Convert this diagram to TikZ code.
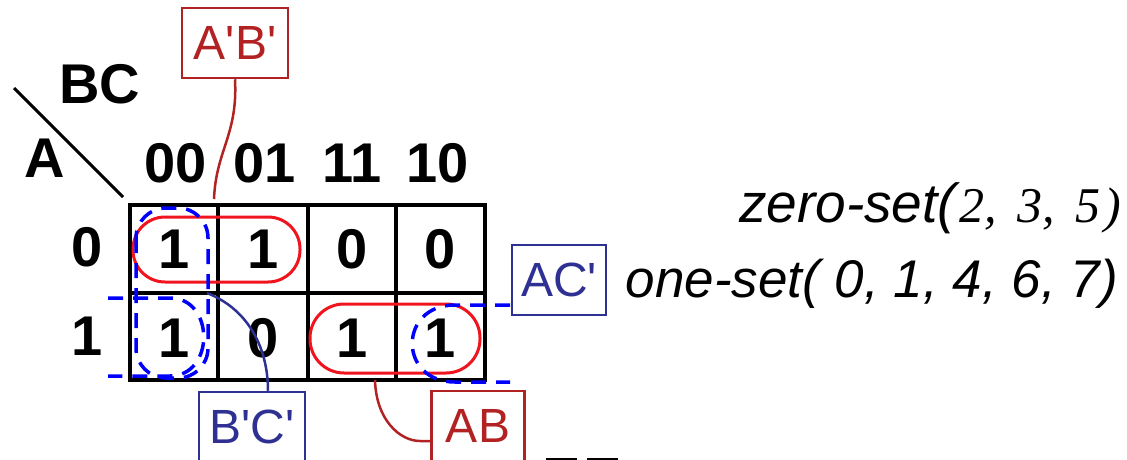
\documentclass[tikz,border=0pt]{standalone}
\usepackage{fontspec}
\setmainfont{Liberation Sans}
\newfontfamily\timesfont{Liberation Serif}
\usetikzlibrary{calc}
\definecolor{pillred}{RGB}{240,20,30}
\definecolor{labred}{RGB}{178,34,34}
\definecolor{labblue}{RGB}{46,49,146}
\definecolor{loopblue}{RGB}{0,0,255}
\def\big{\fontsize{56}{60}\selectfont\bfseries}
\def\lab{\fontsize{48}{50}\selectfont}
\def\pr{\textquotesingle}
\tikzset{
  cell/.style={font=\big, inner sep=0pt},
  grid/.style={line width=4pt},
  pill/.style={draw=pillred, line width=3pt},
  loop/.style={draw=loopblue, line width=3.5pt, dash pattern=on 15pt off 10pt},
  redbox/.style={draw=labred, line width=2.5pt, text=labred, font=\lab, minimum width=106pt, minimum height=70pt, inner sep=0pt},
  bluebox/.style={draw=labblue, line width=2.5pt, text=labblue, font=\lab, minimum width=106pt, minimum height=70pt, inner sep=0pt},
  setline/.style={anchor=base east, inner sep=0pt},
}
\begin{document}
\begin{tikzpicture}[x=1pt, y=-1pt]
  \useasboundingbox (0,0) rectangle (1127,460);
  % corner header
  \coordinate (d1) at (14,88);
  \coordinate (d2) at (123,197);
  \draw[line width=3pt] (d1) -- (d2);
  \node[cell, anchor=base] (bc) at (100,103) {BC};
  \node[cell, anchor=base] (a) at (45,177) {A};
  \node[cell, anchor=base] (h00) at (176,182) {00};
  \node[cell, anchor=base] (h01) at (265,182) {01};
  \node[cell, anchor=base] (h11) at (352,182) {11};
  \node[cell, anchor=base] (h10) at (438,182) {10};
  \node[cell, anchor=base] (r0) at (87,266) {0};
  \node[cell, anchor=base] (r1) at (87,355) {1};
  % map
  \draw[grid] (130,205) rectangle (485,380);
  \foreach \x in {218,308,396} \draw[grid] (\x,205) -- (\x,380);
  \draw[grid] (130,293) -- (485,293);
  \node[cell, anchor=base] (m0) at (174,268) {1};
  \node[cell, anchor=base] (m1) at (263,268) {1};
  \node[cell, anchor=base] (m3) at (352,268) {0};
  \node[cell, anchor=base] (m2) at (440,268) {0};
  \node[cell, anchor=base] (m4) at (174,357) {1};
  \node[cell, anchor=base] (m5) at (263,357) {0};
  \node[cell, anchor=base] (m7) at (352,357) {1};
  \node[cell, anchor=base] (m6) at (440,357) {1};
  % groups
  \draw[pill, rounded corners=32pt] (133,217) rectangle (300,282);
  \draw[pill, rounded corners=34pt] (310,304) rectangle (480,373);
  \draw[loop, rounded corners=30pt] (136,208) rectangle (208,378);
  \draw[loop] (108,298) -- (170,298) .. controls (215,298) and (215,376) .. (170,376) -- (108,376);
  \draw[loop] (510,305) -- (455,305) .. controls (398,305) and (398,382) .. (455,382) -- (510,382);
  % labels
  \node[redbox] (tab) at (235,43) {A\pr B\pr};
  \node[bluebox] (tbc) at (252,427) {B\pr C\pr};
  \node[redbox, minimum width=93pt] (tabb) at (478,426) {AB};
  \node[bluebox, minimum width=94pt] (tac) at (559,280) {AC\pr};
  \coordinate (eab) at (214,199);
  \coordinate (ebc) at (207,293);
  \coordinate (eabb) at (375,380);
  \draw[labred, line width=2.5pt] (tab.south) .. controls (238,135) and (216,150) .. (eab);
  \draw[labblue, line width=2.5pt] (ebc) .. controls (250,310) and (268,350) .. (tbc.north -| 268,392);
  \draw[labred, line width=2.5pt] (eabb) .. controls (376,420) and (400,441) .. (420,441) -- (tabb.west |- 0,441);
  % sets
  \node[setline] (zs) at (1121,222) {\fontsize{55}{58}\selectfont\itshape zero-set(\fontsize{50}{58}\selectfont\timesfont\itshape\hspace{3pt}2,\hspace{8pt} 3,\hspace{8pt} 5\hspace{4pt})};
  \node[setline] (os) at (1118,297) {\fontsize{53}{58}\selectfont\itshape one-set( 0, 1, 4, 6, 7)};
  \coordinate (s1) at (546,459);
  \coordinate (s2) at (577,459);
  \coordinate (s3) at (587,459);
  \coordinate (s4) at (618,459);
  \draw[line width=2pt] (s1) -- (s2) (s3) -- (s4);
\end{tikzpicture}
\end{document}
